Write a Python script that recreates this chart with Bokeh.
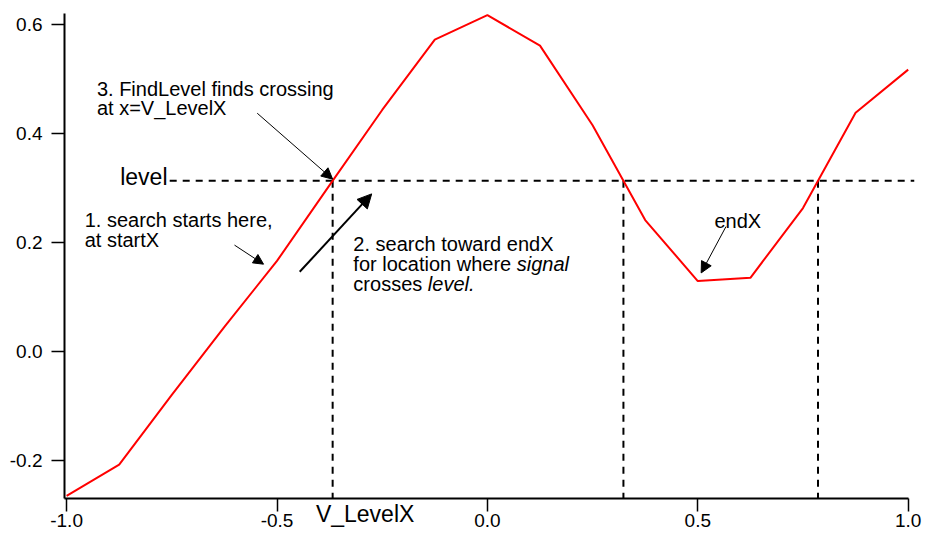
import numpy as np
from bokeh.plotting import figure
from bokeh.models import Arrow, NormalHead, Label, FixedTicker, Range1d, LinearAxis
from bokeh.embed import file_html
from bokeh.resources import INLINE

# ---- data ----
x_vals = [-1.0, -0.875, -0.75, -0.625, -0.5, -0.375, -0.25, -0.125, 0.0,
          0.125, 0.25, 0.375, 0.5, 0.625, 0.75, 0.875, 1.0]
signal = [-0.265, -0.208, -0.08, 0.045, 0.166, 0.305, 0.443, 0.572, 0.617,
          0.561, 0.415, 0.241, 0.129, 0.135, 0.263, 0.438, 0.517]
level = 0.313
x_ticks = [-1.0, -0.5, 0.0, 0.5, 1.0]
x_tick_labels = ["-1.0", "-0.5", "0.0", "0.5", "1.0"]
y_ticks = [-0.2, 0.0, 0.2, 0.4, 0.6]
y_tick_labels = ["-0.2", "0.0", "0.2", "0.4", "0.6"]
marker_x = [-0.2906]
marker_labels = ["V_LevelX"]

FONT = "Liberation Sans"


def find_crossings(xs, ys, lv):
    out = []
    for i in range(len(xs) - 1):
        a, b = ys[i] - lv, ys[i + 1] - lv
        if a * b < 0:
            t = a / (a - b)
            out.append(xs[i] + t * (xs[i + 1] - xs[i]))
    return out


cross_x = find_crossings(x_vals, signal, level)

W, H = 922, 529
X0, X1 = -1.005, 1.015
Y0, Y1 = -0.27, 0.62

p = figure(width=W, height=H, x_range=Range1d(X0, X1), y_range=Range1d(Y0, Y1),
           output_backend="svg", toolbar_location=None,
           min_border_left=64, min_border_right=8, min_border_top=13,
           min_border_bottom=0)
p.grid.visible = False
p.outline_line_color = None
p.background_fill_color = "white"
p.border_fill_color = "white"

for ax in (p.xaxis[0], p.yaxis[0]):
    ax.axis_line_width = 2
    ax.axis_line_color = "black"
    ax.major_tick_line_width = 1.5
    ax.major_tick_line_color = "black"
    ax.major_tick_in = 0
    ax.major_tick_out = 13
    ax.minor_tick_line_color = None
    ax.major_label_text_font = FONT
    ax.major_label_text_font_size = "19px"
    ax.major_label_text_color = "black"

p.xaxis.ticker = FixedTicker(ticks=x_ticks)
p.xaxis.major_label_overrides = {t: l for t, l in zip(x_ticks, x_tick_labels)}
p.xaxis.major_label_standoff = 2
p.xaxis.bounds = (X0, 1.0)
p.yaxis.ticker = FixedTicker(ticks=y_ticks)
p.yaxis.major_label_overrides = {t: l for t, l in zip(y_ticks, y_tick_labels)}
p.yaxis.major_label_standoff = 9

# second (label-only) bottom axis carrying the "V_LevelX" marker text
ax2 = LinearAxis(ticker=FixedTicker(ticks=marker_x),
                 major_label_overrides={t: l for t, l in zip(marker_x, marker_labels)},
                 axis_line_color=None, major_tick_line_color=None,
                 minor_tick_line_color=None, major_tick_in=0, major_tick_out=0,
                 major_label_standoff=-29, major_label_text_font=FONT,
                 major_label_text_font_size="23px", major_label_text_color="black")
p.add_layout(ax2, "below")

# dashed level line and crossing verticals
p.segment(x0=[-0.755], y0=[level], x1=[X1], y1=[level], line_color="black",
          line_width=2, line_dash="7 6")
p.segment(x0=cross_x, y0=[level] * len(cross_x), x1=cross_x, y1=[Y0] * len(cross_x),
          line_color="black", line_width=2, line_dash="7 6")

# signal
p.line(x_vals, signal, line_color="#ff0000", line_width=2)


def lab(text, x, y, size="20px", style="normal", x_offset=0):
    p.add_layout(Label(x=x, y=y, text=text, text_font=FONT, text_font_size=size,
                       text_font_style=style, text_color="black", text_align="left",
                       text_baseline="alphabetic", x_offset=x_offset))


lab("3. FindLevel finds crossing", -0.928, 0.482)
lab("at x=V_LevelX", -0.928, 0.446)
lab("level", -0.8726, 0.320, size="23px")
lab("1. search starts here,", -0.957, 0.2404)
lab("at startX", -0.957, 0.2051)
lab("2. search toward endX", -0.3185, 0.197)
lab("for location where ", -0.3185, 0.161)
lab("signal", -0.3185, 0.161, style="italic", x_offset=8.17 * 20)
lab("crosses ", -0.3185, 0.1245)
lab("level.", -0.3185, 0.1245, style="italic", x_offset=3.723 * 20)
lab("endX", 0.5396, 0.2385)


def arrow(xs, ys, xe, ye, lw=1, size=11):
    p.add_layout(Arrow(end=NormalHead(size=size, fill_color="black", line_color="black",
                                      line_width=1),
                       x_start=xs, y_start=ys, x_end=xe, y_end=ye,
                       line_color="black", line_width=lw))


arrow(-0.601, 0.195, -0.532, 0.160, lw=1, size=10)
arrow(-0.446, 0.146, -0.275, 0.289, lw=2, size=14)
arrow(-0.547, 0.437, cross_x[0], level + 0.003, lw=1, size=11)
arrow(0.567, 0.229, 0.508, 0.144, lw=1, size=11)

open("out.html", "w").write(file_html(p, INLINE))
